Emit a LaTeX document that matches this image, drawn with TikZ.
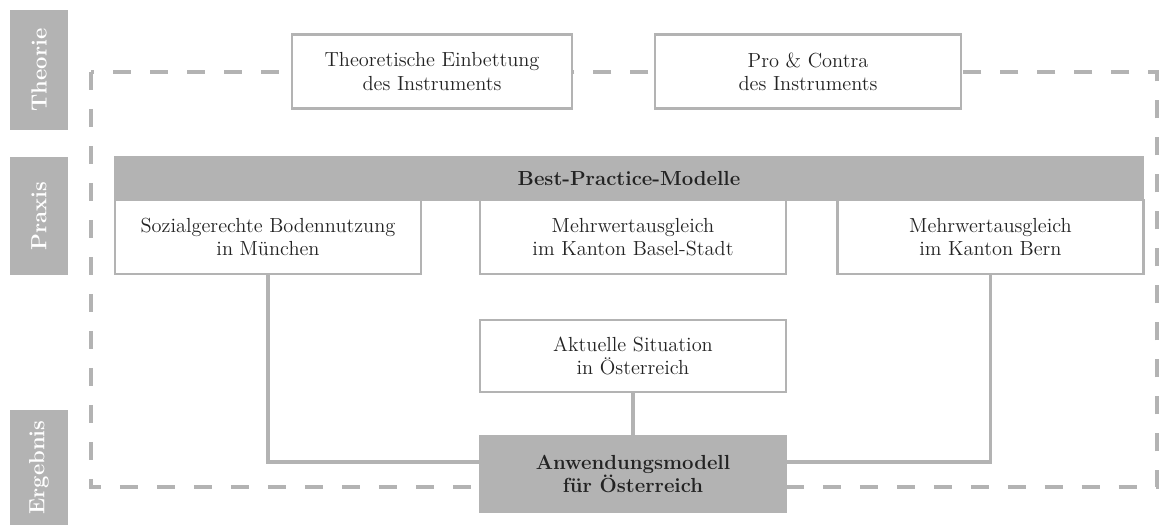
\documentclass[tikz,border=0pt]{standalone}
\usepackage{tikz}

\definecolor{boxgray}{RGB}{179,179,179}
\definecolor{textgray}{RGB}{35,35,35}

\begin{document}
\begin{tikzpicture}[x=0.02cm, y=-0.02cm,
    box/.style={draw=boxgray, line width=1.4pt, fill=white, rectangle, minimum width=6.12cm, minimum height=1.48cm, inner sep=0pt, align=center, text=textgray, font=\fontsize{11.6}{13.2}\selectfont},
    graybox/.style={box, fill=boxgray, draw=boxgray, font=\fontsize{11.6}{13.2}\selectfont\bfseries},
    side/.style={rectangle, fill=boxgray, rotate=90, minimum height=1.16cm, inner sep=0pt, text=white, font=\fontsize{12.5}{14}\selectfont\bfseries},
    link/.style={draw=boxgray, line width=2pt}]
    \useasboundingbox (0,0) rectangle (1160,525);
    % frame
    \draw[boxgray, line width=2.3pt, dash pattern=on 0.36cm off 0.38cm] (91,72) rectangle (1157,487);
    % side labels
    \node (theorie) at (39,70) [side, minimum width=2.4cm] {Theorie};
    \node (praxis) at (39,216) [side, minimum width=2.36cm] {Praxis};
    \node (ergebnis) at (39,467.5) [side, minimum width=2.3cm] {Ergebnis};
    % theory
    \node (einbettung) at (432,71.5) [box, minimum width=5.6cm] {Theoretische Einbettung\\des Instruments};
    \node (procontra) at (808,71.5) [box] {Pro \& Contra\\des Instruments};
    % practice
    \node (bestpractice) at (629,178.5) [graybox, minimum width=20.56cm, minimum height=0.86cm] {Best-Practice-Modelle};
    \node (muenchen) at (268,237) [box] {Sozialgerechte Bodennutzung\\in München};
    \node (basel) at (633,237) [box] {Mehrwertausgleich\\im Kanton Basel-Stadt};
    \node (bern) at (990.5,237) [box] {Mehrwertausgleich\\im Kanton Bern};
    \node (aktuell) at (633,356) [box, minimum height=1.44cm] {Aktuelle Situation\\in Österreich};
    % result
    \node (anwendung) at (633,474) [graybox, minimum height=1.52cm] {Anwendungsmodell\\für Österreich};
    \draw[link] (muenchen) |- ([yshift=0.24cm]anwendung.west);
    \draw[link] (bern) |- ([yshift=0.24cm]anwendung.east);
    \draw[link] (aktuell) -- (anwendung);
\end{tikzpicture}
\end{document}
